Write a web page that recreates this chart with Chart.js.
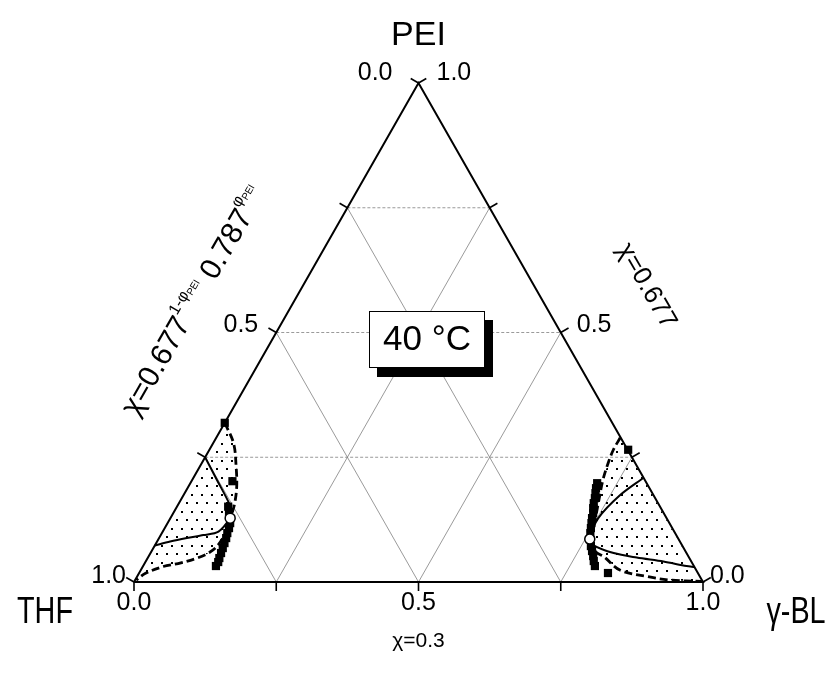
<!DOCTYPE html>
<html>
<head>
<meta charset="utf-8">
<script src="https://cdn.jsdelivr.net/npm/chart.js@4.4.1/dist/chart.umd.min.js"></script>
<style>
  html, body { margin: 0; padding: 0; background: #fff; }
  canvas { display: block; }
</style>
</head>
<body>
<canvas id="c" width="835" height="673"></canvas>
<script>
// Compositions are [phi_gammaBL, phi_PEI]; phi_THF = 1 - phi_gammaBL - phi_PEI.
const gridFractions = [0.25, 0.5, 0.75];
const tickFractions = [0, 0.25, 0.5, 0.75, 1];
const tickLabelValues = [0, 0.5, 1];
const tickLabelText = ['0.0', '0.5', '1.0'];

// THF-rich side
const binodalTHF = [
  [0.000, 0.319], [0.036, 0.278], [0.064, 0.231], [0.085, 0.191],
  [0.098, 0.158], [0.104, 0.135], [0.105, 0.128], [0.112, 0.098],
  [0.110, 0.071], [0.102, 0.058], [0.087, 0.048], [0.059, 0.037],
  [0.036, 0.031], [0.011, 0.017], [0.002, 0.004]
];
const spinodalTHF = [
  [0.000, 0.250], [0.044, 0.204], [0.088, 0.158], [0.101, 0.140],
  [0.105, 0.128], [0.098, 0.101], [0.075, 0.094], [0.049, 0.088],
  [0.023, 0.081], [0.000, 0.073]
];
const cloudTHF = [
  [0.000, 0.319], [0.072, 0.202], [0.090, 0.151], [0.097, 0.140],
  [0.110, 0.118], [0.113, 0.108], [0.115, 0.098], [0.118, 0.088],
  [0.120, 0.078], [0.122, 0.068], [0.124, 0.058], [0.126, 0.048],
  [0.128, 0.040], [0.128, 0.032]
];
const criticalTHF = [[0.105, 0.128]];

// gamma-BL-rich side
const binodalGBL = [
  [0.710, 0.289], [0.710, 0.265], [0.714, 0.239], [0.722, 0.204],
  [0.735, 0.164], [0.748, 0.124], [0.758, 0.086], [0.782, 0.060],
  [0.800, 0.051], [0.842, 0.024], [0.896, 0.011], [0.940, 0.004],
  [0.996, 0.001]
];
const spinodalGBL = [
  [0.791, 0.209], [0.767, 0.174], [0.752, 0.128], [0.758, 0.086],
  [0.770, 0.074], [0.814, 0.058], [0.859, 0.049], [0.910, 0.041],
  [0.955, 0.032], [0.970, 0.030]
];
const cloudGBL = [
  [0.736, 0.265], [0.715, 0.198], [0.718, 0.188], [0.722, 0.178],
  [0.726, 0.168], [0.729, 0.158], [0.733, 0.148], [0.738, 0.138],
  [0.741, 0.128], [0.745, 0.118], [0.749, 0.108], [0.753, 0.098],
  [0.767, 0.072], [0.774, 0.062], [0.781, 0.052], [0.787, 0.042],
  [0.794, 0.032], [0.824, 0.018]
];
const criticalGBL = [[0.758, 0.086]];

// ternary -> cartesian (data units), fed to the linear scales
const toXY = ([g, p]) => ({ x: g + p / 2, y: p });
const pts = arr => arr.map(toXY);

// dotted hatch used for the two-phase regions
function dotPattern() {
  const cv = document.createElement('canvas');
  cv.width = 10; cv.height = 17;
  const g = cv.getContext('2d');
  g.fillStyle = '#000';
  g.fillRect(1, 1, 2, 2);
  g.fillRect(6, 9, 2, 2);
  return g.createPattern(cv, 'repeat');
}
const dots = dotPattern();

const datasets = [];

// background grid
gridFractions.forEach(f => {
  const lines = [
    [[[0, f], [1 - f, f]], [3, 2]],      // constant PEI
    [[[f, 0], [f, 1 - f]], []],          // constant gamma-BL
    [[[1 - f, 0], [0, 1 - f]], []]       // constant THF
  ];
  lines.forEach(([l, dash]) => datasets.push({
    data: pts(l), showLine: true, borderColor: '#808080', borderWidth: 0.8,
    borderDash: dash, pointRadius: 0, order: 20, clip: false
  }));
});

// triangle frame
datasets.push({
  data: pts([[0, 0], [1, 0], [0, 1], [0, 0]]), showLine: true,
  borderColor: '#000', borderWidth: 2, pointRadius: 0, order: 15, clip: false
});

[binodalTHF, binodalGBL].forEach(b => datasets.push({
  data: pts(b), showLine: true, fill: 'shape', backgroundColor: dots,
  borderColor: '#000', borderWidth: 2.8, borderDash: [8, 4], tension: 0.35,
  pointRadius: 0, order: 10, clip: false
}));

[spinodalTHF, spinodalGBL].forEach(s => datasets.push({
  data: pts(s), showLine: true, borderColor: '#000', borderWidth: 2,
  tension: 0.3, pointRadius: 0, order: 8, clip: false
}));

[cloudTHF, cloudGBL].forEach(c => datasets.push({
  data: pts(c), showLine: false, pointStyle: 'rect', pointRadius: 5.8,
  backgroundColor: '#000', borderWidth: 0, order: 6, clip: false
}));

[criticalTHF, criticalGBL].forEach(c => datasets.push({
  data: pts(c), showLine: false, pointStyle: 'circle', pointRadius: 5,
  backgroundColor: '#fff', borderColor: '#000', borderWidth: 1.5, order: 4, clip: false
}));

const FONT = "'Liberation Sans', Arial, Helvetica, sans-serif";

function drawSeq(ctx, parts) {
  // measures and draws a run of text pieces centred on the origin
  let w = 0;
  parts.forEach(p => { ctx.font = p.size + 'px ' + FONT; p.w = ctx.measureText(p.t).width; w += p.w; });
  let xx = -w / 2;
  ctx.textBaseline = 'alphabetic';
  ctx.textAlign = 'left';
  parts.forEach(p => { ctx.font = p.size + 'px ' + FONT; ctx.fillText(p.t, xx, p.dy); xx += p.w; });
}

function narrowText(ctx, t, x, y, size, sx) {
  ctx.save();
  ctx.translate(x, y);
  ctx.scale(sx, 1);
  ctx.font = size + 'px ' + FONT;
  ctx.textAlign = 'center';
  ctx.textBaseline = 'middle';
  ctx.fillText(t, 0, 0);
  ctx.restore();
}

const decor = {
  id: 'decor',
  afterDatasetsDraw(chart) {
    const { ctx, scales: { x, y } } = chart;
    const px = (g, p) => [x.getPixelForValue(g + p / 2), y.getPixelForValue(p)];
    const c = Math.sqrt(3) / 2;
    ctx.save();
    ctx.strokeStyle = '#000';
    ctx.lineWidth = 1.6;
    const L = 9;
    const tick = (pt, n) => {
      ctx.beginPath();
      ctx.moveTo(pt[0], pt[1]);
      ctx.lineTo(pt[0] + n[0] * L, pt[1] + n[1] * L);
      ctx.stroke();
    };
    tickFractions.forEach(f => {
      tick(px(f, 0), [0, 1]);          // gamma-BL axis (bottom)
      tick(px(1 - f, f), [c, -0.5]);   // PEI axis (right)
      tick(px(0, 1 - f), [-c, -0.5]);  // THF axis (left)
    });

    ctx.fillStyle = '#000';
    ctx.font = '25px ' + FONT;
    ctx.textBaseline = 'middle';
    // label offsets from the tick foot, listed in tickLabelValues order
    const rightOff = [[7, -6], [16, -7], [18, -10]];
    const leftOff = [[-26, -10], [-18, -7], [-8, -6]];
    tickLabelValues.forEach((v, i) => {
      const t = tickLabelText[i];
      let p = px(v, 0);
      ctx.textAlign = 'center';
      ctx.fillText(t, p[0], p[1] + 21);
      p = px(1 - v, v);
      ctx.textAlign = 'left';
      ctx.fillText(t, p[0] + rightOff[i][0], p[1] + rightOff[i][1]);
      p = px(0, 1 - v);
      ctx.textAlign = 'right';
      ctx.fillText(t, p[0] + leftOff[i][0], p[1] + leftOff[i][1]);
    });

    // apex names
    const top = px(0, 1), bl = px(0, 0), br = px(1, 0);
    ctx.textAlign = 'center';
    ctx.font = '34px ' + FONT;
    ctx.fillText('PEI', top[0], top[1] - 47);
    narrowText(ctx, 'THF', bl[0] - 89, bl[1] + 31, 36, 0.8);
    narrowText(ctx, 'γ-BL', br[0] + 93, br[1] + 31, 36, 0.8);
    ctx.font = '21px ' + FONT;
    ctx.textBaseline = 'middle';
    ctx.textAlign = 'center';
    ctx.fillText('χ=0.3', px(0.5, 0)[0], bl[1] + 59);

    // interaction parameter along the right edge
    ctx.save();
    ctx.translate(648, 285);
    ctx.rotate(Math.PI / 3);
    drawSeq(ctx, [{ t: 'χ=0.677', size: 26, dy: 9 }]);
    ctx.restore();

    // concentration dependent parameter along the left edge
    ctx.save();
    ctx.translate(192, 300);
    ctx.rotate(-Math.PI / 3);
    drawSeq(ctx, [
      { t: 'χ=0.677', size: 30, dy: 11 },
      { t: '1-φ', size: 16, dy: -5 },
      { t: 'PEI', size: 10, dy: -2 },
      { t: ' 0.787', size: 30, dy: 11 },
      { t: 'φ', size: 16, dy: -5 },
      { t: 'PEI', size: 10, dy: -2 }
    ]);
    ctx.restore();

    // temperature box with drop shadow
    const bx = 369, by = 311, bw = 116, bh = 57;
    ctx.fillStyle = '#000';
    ctx.fillRect(bx + 8, by + 9, bw, bh);
    ctx.fillStyle = '#fff';
    ctx.fillRect(bx, by, bw, bh);
    ctx.lineWidth = 1;
    ctx.strokeRect(bx + 0.5, by + 0.5, bw - 1, bh - 1);
    ctx.fillStyle = '#000';
    ctx.font = '35px ' + FONT;
    ctx.textAlign = 'center';
    ctx.textBaseline = 'middle';
    ctx.fillText('40 °C', bx + bw / 2, by + bh / 2 + 1);
    ctx.restore();
  }
};

new Chart(document.getElementById('c'), {
  type: 'scatter',
  data: { datasets },
  options: {
    responsive: false,
    animation: false,
    layout: { padding: { left: 134, right: 132, top: 83, bottom: 91 } },
    scales: {
      x: { type: 'linear', min: 0, max: 1, display: false },
      y: { type: 'linear', min: 0, max: 1, display: false }
    },
    plugins: { legend: { display: false }, tooltip: { enabled: false } }
  },
  plugins: [decor]
});
</script>
</body>
</html>
